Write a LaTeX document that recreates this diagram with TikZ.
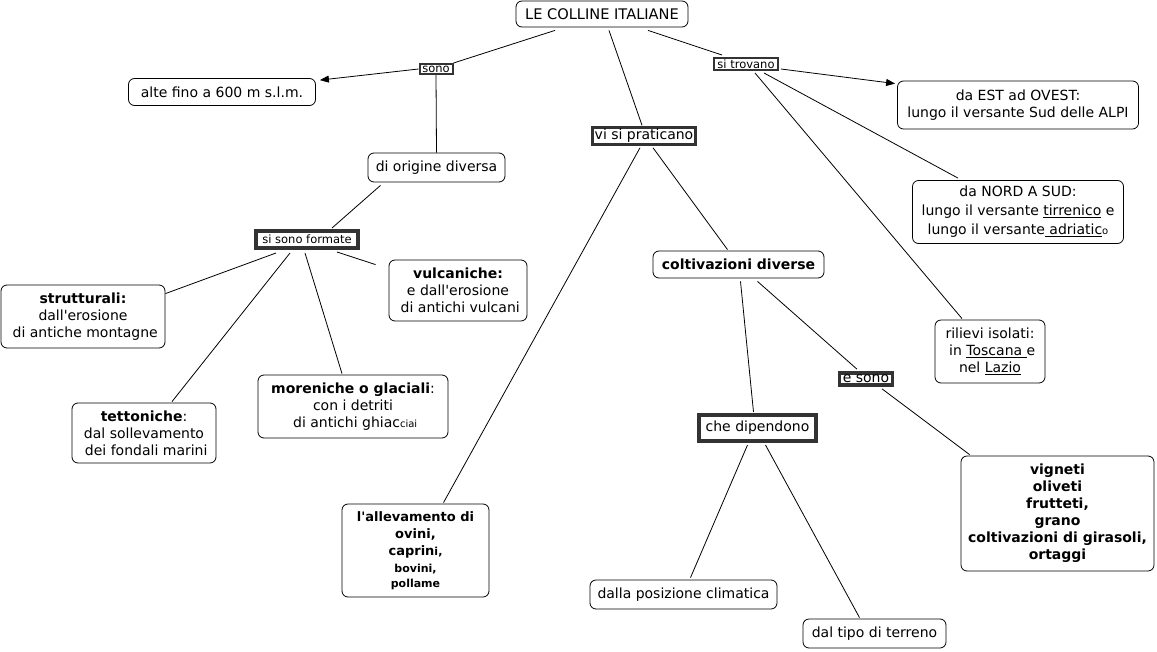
\documentclass[tikz,border=0pt]{standalone}
\usepackage{fontspec}
\setmainfont{DejaVu Sans}
\newfontfamily\plainfont{DejaVu Sans}
\usetikzlibrary{arrows.meta}
\definecolor{linkgray}{HTML}{333333}
\begin{document}
\begin{tikzpicture}[x=1pt,y=-1pt,
  cbox/.style={draw, rounded corners=6pt, line width=0.8pt, align=center, inner sep=0pt, font=\plainfont\fontsize{14}{17}\selectfont},
  lbox/.style={draw=linkgray, fill=white, line width=#1, inner xsep=0.5*#1+0.8pt, inner ysep=0.5*#1+0.3pt, align=center, font=\plainfont\fontsize{14}{16}\selectfont},
  small/.style={font=\plainfont\fontsize{11.5}{13}\selectfont},
  conn/.style={line width=0.8pt},
  arr/.style={conn, -{Triangle[length=9pt,width=7pt]}}]
\useasboundingbox[fill=white] (0,0) rectangle (1157,651);

\node[cbox, minimum width=172pt, minimum height=26pt, font=\plainfont\fontsize{14.6}{17}\selectfont] (title) at (602,14) {LE COLLINE ITALIANE};
\node[lbox=2pt, small, minimum width=33pt, minimum height=10pt] (sono) at (436,69) {sono};
\node[cbox, minimum width=187pt, minimum height=27pt] (alte) at (222,92) {alte fino a 600 m s.l.m.};
\node[lbox=2pt, small, minimum width=64pt, minimum height=12pt] (trovano) at (746,64) {si trovano};
\node[cbox, minimum width=241pt, minimum height=48pt] (est) at (1018,105) {da EST ad OVEST:\\lungo il versante Sud delle ALPI};
\node[lbox=2.5pt, minimum width=101pt, minimum height=17pt] (praticano) at (644,136) {vi si praticano};
\node[cbox, minimum width=137pt, minimum height=29pt] (origine) at (436.5,167.5) {di origine diversa};
\node[cbox, minimum width=211pt, minimum height=63pt, font=\plainfont\fontsize{14}{19}\selectfont] (nord) at (1018,212) {da NORD A SUD:\\lungo il versante \underline{tirrenico} e\\lungo il versante\underline{ adriatic}{\fontsize{10}{12}\selectfont o}};
\node[lbox=4pt, small, minimum width=102pt, minimum height=17pt] (formate) at (307,239.5) {si sono formate};
\node[cbox, minimum width=164pt, minimum height=63pt] (strut) at (83,316.5) {\textbf{strutturali:}\\dall'erosione\\\ di antiche montagne};
\node[cbox, minimum width=138pt, minimum height=61pt] (vulc) at (458,290.5) {\textbf{vulcaniche:}\\e dall'erosione\\\ di antichi vulcani};
\node[cbox, minimum width=171pt, minimum height=27pt] (colt) at (738.5,264.5) {\textbf{coltivazioni diverse}};
\node[cbox, minimum width=110pt, minimum height=63pt] (ril) at (990,351.5) {rilievi isolati:\\\ in \underline{Toscana\ }e\\nel \underline{Lazio}};
\node[cbox, minimum width=144pt, minimum height=60pt] (tett) at (144,433) {\textbf{tettoniche}:\\dal sollevamento\\\ dei fondali marini};
\node[cbox, minimum width=190pt, minimum height=63pt] (mor) at (353,406.5) {\textbf{moreniche o glaciali}:\\con i detriti\\\ di antichi ghiac{\fontsize{10}{12}\selectfont ciai}};
\node[lbox=3.5pt, minimum width=53pt, minimum height=12pt] (esono) at (866,379) {e sono};
\node[lbox=4pt, minimum width=117pt, minimum height=26pt] (dip) at (757.5,428) {che dipendono};
\node[cbox, minimum width=193pt, minimum height=115pt, font=\plainfont\bfseries\fontsize{14}{17}\selectfont] (vign) at (1057.5,513.5) {vigneti\\oliveti\\frutteti,\\grano\\coltivazioni di girasoli,\\ortaggi};
\node[cbox, minimum width=147pt, minimum height=93pt, font=\plainfont\bfseries\fontsize{13}{17}\selectfont] (allev) at (415.5,550.5) {l'allevamento di\\ovini,\\caprin{\fontsize{11}{13}\selectfont i,}\\{\fontsize{11}{13}\selectfont bovini,}\\[-2pt]{\fontsize{11}{13}\selectfont pollame}};
\node[cbox, minimum width=187pt, minimum height=29pt] (posiz) at (683.5,594.5) {dalla posizione climatica};
\node[cbox, minimum width=143pt, minimum height=29pt] (terr) at (874.5,633.5) {dal tipo di terreno};

\draw[conn] ([shift={(-47,3)}]title.south) -- (sono.north east);
\draw[arr] (sono.west) -- ([shift={(4,2)}]alte.north east);
\draw[conn] (sono.south) -- (origine.north);
\draw[conn] ([shift={(7,3)}]title.south) -- ([shift={(-2,-1)}]praticano.north);
\draw[conn] ([shift={(46,3)}]title.south) -- ([shift={(9,-2)}]trovano.north west);
\draw[arr] ([shift={(2,5)}]trovano.east) -- ([shift={(-2,3)}]est.north west);
\draw[conn] ([shift={(18,2)}]trovano.south) -- ([shift={(-60,-2)}]nord.north);
\draw[conn] ([shift={(9,2)}]trovano.south) -- ([shift={(-28,-1)}]ril.north);
\draw[conn] ([shift={(-56,3)}]origine.south) -- ([shift={(25,-1)}]formate.north);
\draw[conn] ([shift={(-31,3)}]formate.south) -- ([shift={(0,9)}]strut.north east);
\draw[conn] ([shift={(-17,3)}]formate.south) -- ([shift={(28,-1)}]tett.north);
\draw[conn] ([shift={(-2,3)}]formate.south) -- ([shift={(-11,-1)}]mor.north);
\draw[conn] ([shift={(30,2)}]formate.south) -- ([shift={(-13,5)}]vulc.north west);
\draw[conn] ([shift={(-4,2)}]praticano.south) -- ([shift={(28,-1)}]allev.north);
\draw[conn] ([shift={(9,2)}]praticano.south) -- ([shift={(-11,-1)}]colt.north);
\draw[conn] ([shift={(2,3)}]colt.south) -- ([shift={(-4,-1)}]dip.north);
\draw[conn] ([shift={(19,3)}]colt.south) -- ([shift={(-9,-2)}]esono.north);
\draw[conn] ([shift={(16,2)}]esono.south) -- ([shift={(9,-1)}]vign.north west);
\draw[conn] ([shift={(-10,2)}]dip.south) -- ([shift={(7,-2)}]posiz.north);
\draw[conn] ([shift={(8,2)}]dip.south) -- ([shift={(-15,-1)}]terr.north);
\end{tikzpicture}
\end{document}
